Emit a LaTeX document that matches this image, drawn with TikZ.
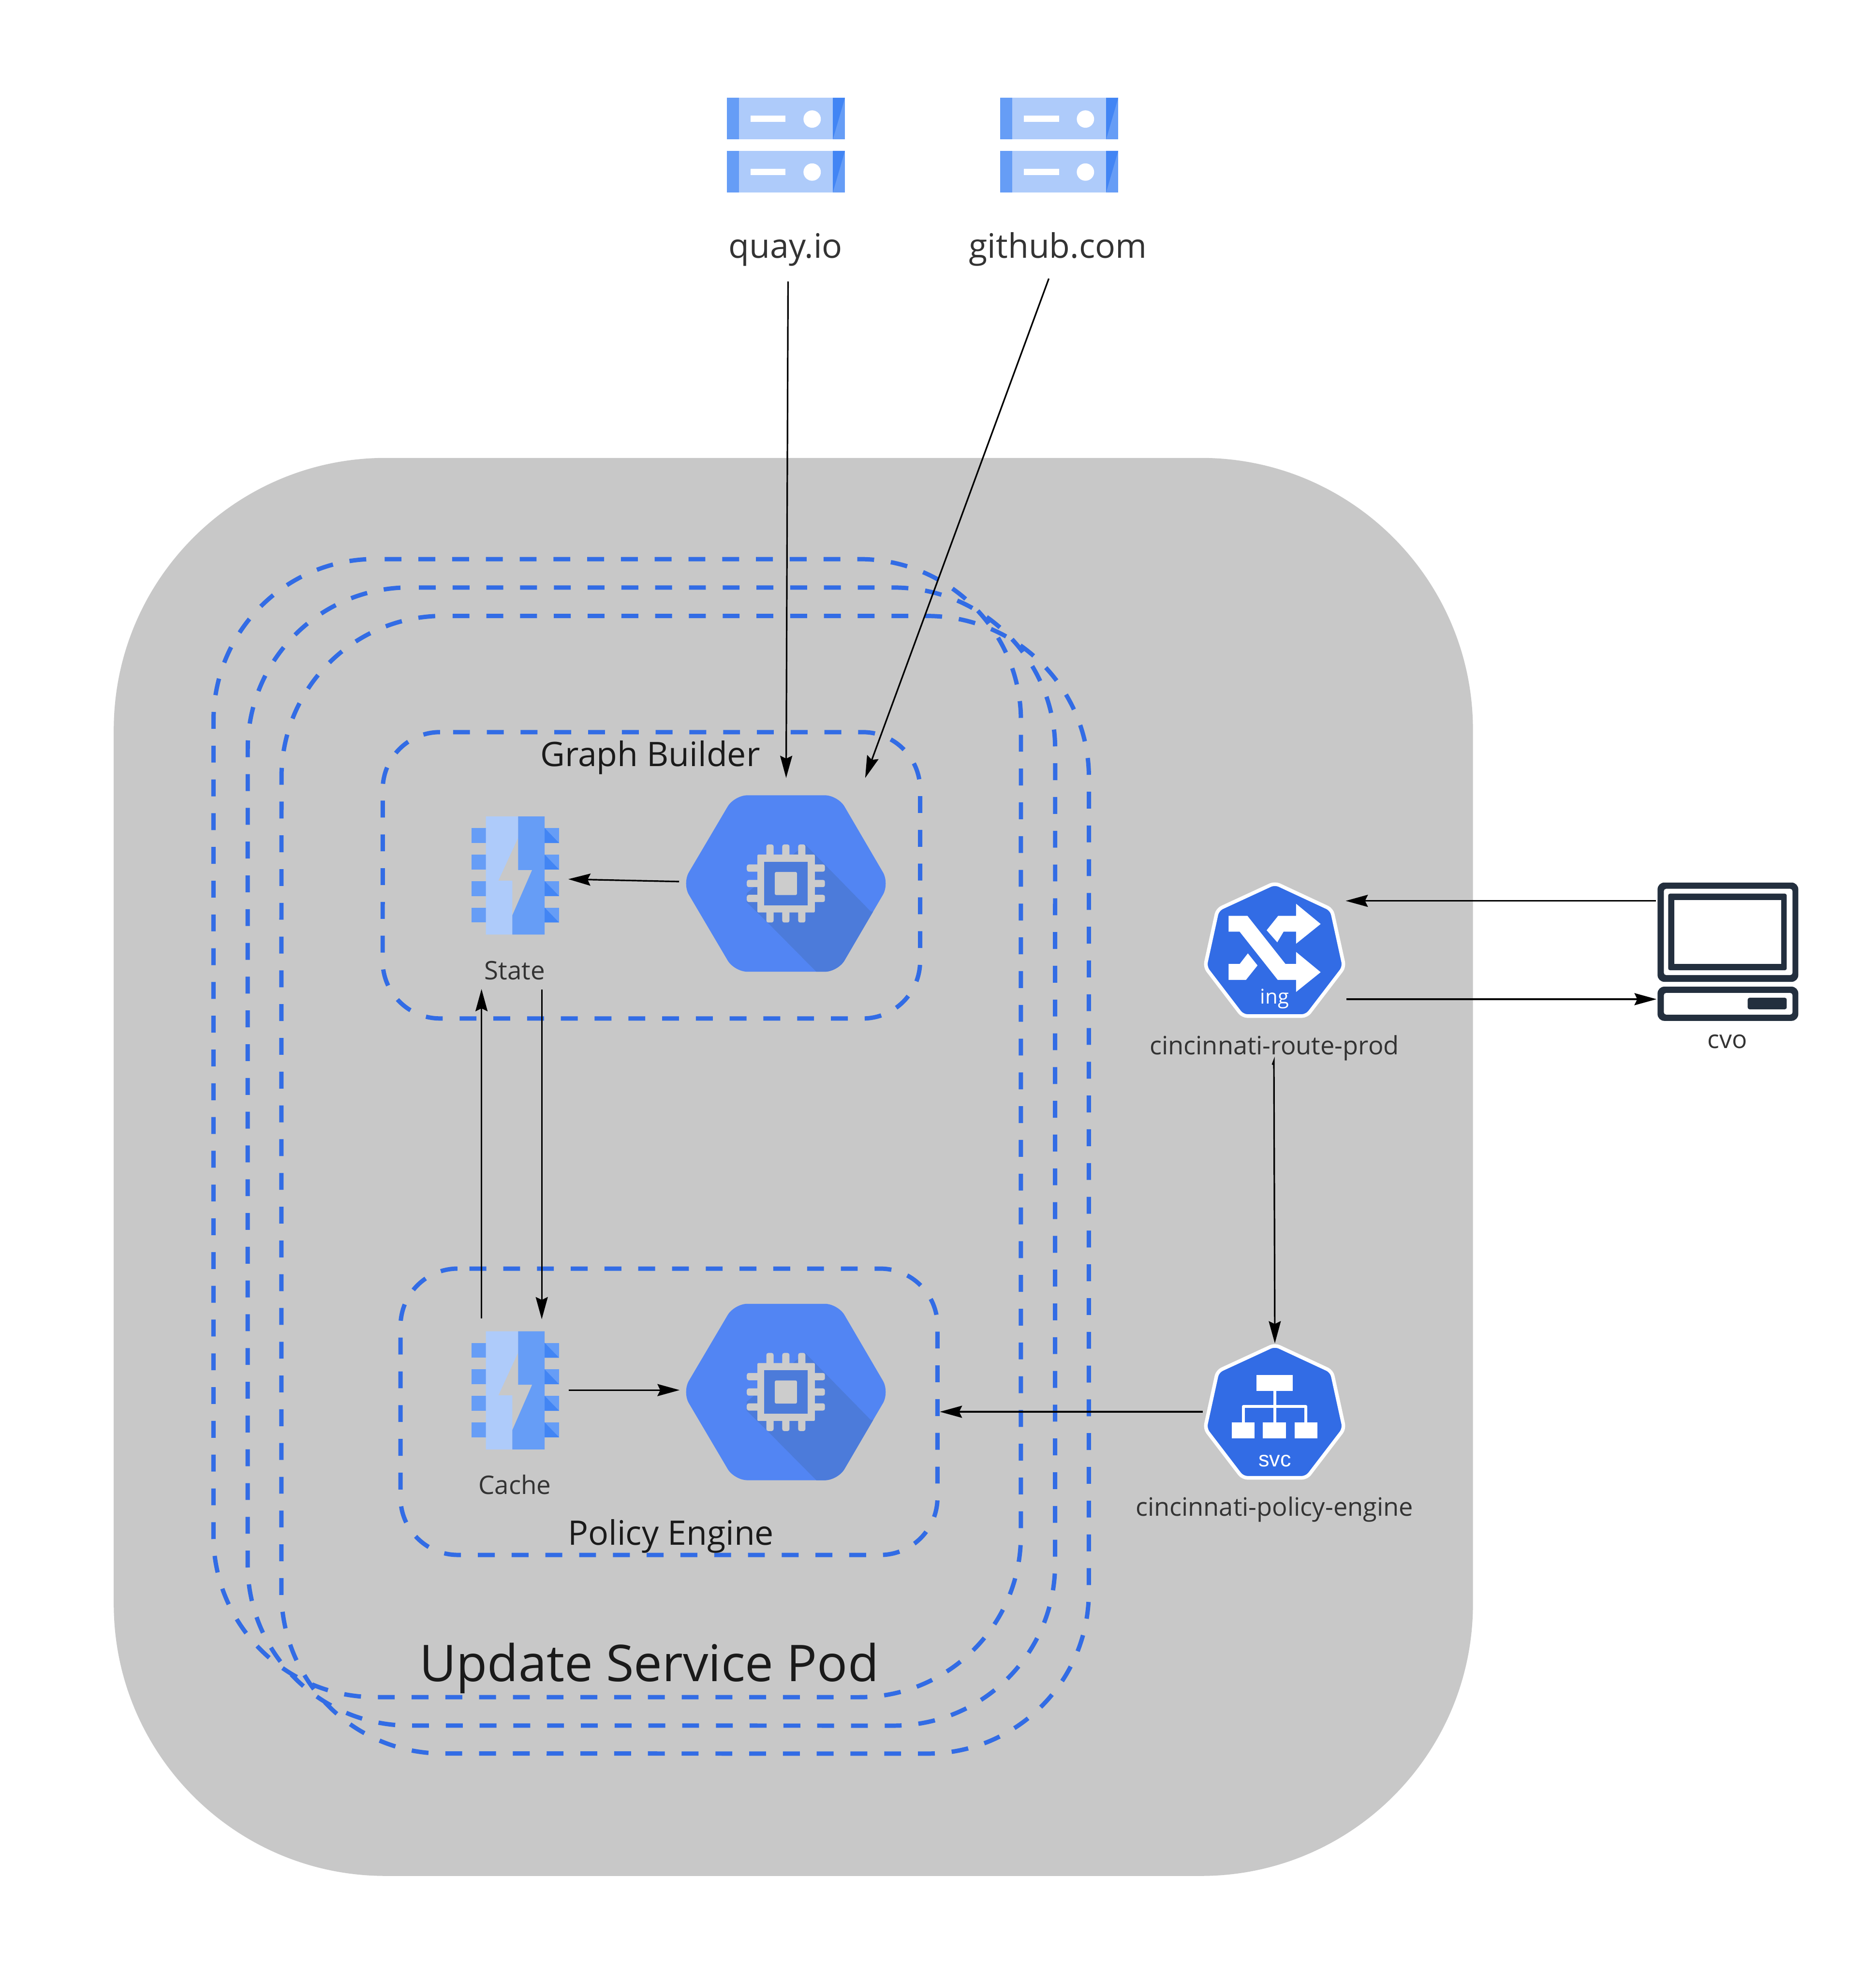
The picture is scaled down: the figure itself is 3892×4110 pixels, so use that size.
\documentclass[tikz,border=0pt]{standalone}
\usepackage{fontspec}
\setmainfont{Open Sans}
\newfontfamily\svcfont{Liberation Sans}
\usetikzlibrary{arrows.meta}
\definecolor{podgray}{HTML}{C8C8C8}
\definecolor{kblue}{HTML}{326CE5}
\definecolor{glight}{HTML}{AECBFA}
\definecolor{gmid}{HTML}{669DF6}
\definecolor{gdark}{HTML}{4285F4}
\definecolor{hexblue}{HTML}{5285F3}
\definecolor{hexshade}{HTML}{4C7BDA}
\definecolor{chipgray}{HTML}{CCCCCC}
\definecolor{termdark}{HTML}{232F3E}
\definecolor{txt}{HTML}{333333}
\definecolor{txtdark}{HTML}{1A1A1A}
\newcommand\fpx[1]{\fontsize{\dimexpr#1\dimexpr0.2845pt\relax\relax}{\dimexpr#1\dimexpr0.34pt\relax\relax}\selectfont}
\tikzset{
  x=0.01cm,y=-0.01cm,
  dashbox/.style={draw=kblue,line width=0.09cm,dash pattern=on 0.35cm off 0.35cm},
  conn/.style={draw=black,line width=0.032cm,-{Stealth[length=0.46cm,width=0.25cm,inset=0.06cm]}},
  lbl/.style={anchor=base,inner sep=0pt,outer sep=0pt,text=txt},
  lbldark/.style={anchor=base,inner sep=0pt,outer sep=0pt,text=txtdark},
}
% a rounded box traced clockwise from the end of its top-left corner:
% left, top, right, bottom (px), corner radius (cm), dash phase (cm)
\newcommand\dashrect[6]{%
  \pgfmathsetmacro\ra{#5*100}%
  \draw[dashbox,dash phase=#6cm]
    (#1+\ra,#2) -- (#3-\ra,#2)
    arc[start angle=90,end angle=0,radius=#5cm] -- (#3,#4-\ra)
    arc[start angle=0,end angle=-90,radius=#5cm] -- (#1+\ra,#4)
    arc[start angle=-90,end angle=-180,radius=#5cm] -- (#1,#2+\ra)
    arc[start angle=180,end angle=90,radius=#5cm] -- cycle;}
% a server unit
\newcommand\serverunit[2]{%
  \begin{scope}[shift={(#1,#2)}]
    \fill[glight] (0,0) rectangle (245,86);
    \fill[gmid] (0,0) rectangle (25,86);
    \fill[gmid] (220,0) rectangle (245,86);
    \fill[gdark] (220,0) -- (245,0) -- (220,86) -- cycle;
    \fill[white] (49,37) rectangle (122,50);
    \fill[white] (177,44) ellipse [x radius=0.18cm,y radius=0.18cm];
  \end{scope}}
% memory chip with a lightning cut-out
\newcommand\memchip[2]{%
  \begin{scope}[shift={(#1,#2)}]
    \foreach \py in {24,79,134,189}{
      \fill[gmid] (0,\py) rectangle (30,\py+31);
      \fill[gmid] (152,\py) rectangle (182,\py+31);
      \fill[gdark] (152,\py) -- (182,\py+31) -- (152,\py+31) -- cycle;
    }
    \fill[glight] (30,0) -- (97,0) -- (97,44) -- (56,133) -- (85,133) -- (85,245) -- (30,245) -- cycle;
    \fill[gmid] (97,0) -- (152,0) -- (152,245) -- (85,245) -- (85,205) -- (126,111) -- (97,111) -- cycle;
  \end{scope}}
% compute engine hexagon with a chip
\newcommand\heximg[2]{%
  \begin{scope}[shift={(#1,#2)}]
    \begin{scope}
      \clip[rounded corners=0.27cm] (-215,0) -- (-107,-183) -- (108,-183) -- (215,0) -- (108,183) -- (-107,183) -- cycle;
      \fill[hexblue] (-220,-190) rectangle (220,190);
      \fill[hexshade] (40,-81) -- (176,58) -- (260,58) -- (260,200) -- (80,200) -- (-39,80) -- (-81,39) -- (-81,20) -- cycle;
    \end{scope}
    \fill[chipgray,rounded corners=0.02cm] (-59,-60) rectangle (60,60);
    \foreach \px in {-33,0,33}{
      \fill[chipgray,rounded corners=0.04cm] (\px-7.5,-81) rectangle (\px+7.5,-50);
      \fill[chipgray,rounded corners=0.04cm] (\px-7.5,50) rectangle (\px+7.5,81);
    }
    \foreach \py in {-32,0,31}{
      \fill[chipgray,rounded corners=0.04cm] (-81,\py-7.5) rectangle (-50,\py+7.5);
      \fill[chipgray,rounded corners=0.04cm] (50,\py-7.5) rectangle (81,\py+7.5);
    }
    \fill[hexshade] (-45,-45) rectangle (45,45);
    \fill[chipgray,rounded corners=0.03cm] (-23,-24) rectangle (23,24);
  \end{scope}}
% kubernetes heptagon
\newcommand\heptagon[2]{%
  \draw[shift={(#1,#2)},fill=kblue,draw=white,line width=0.075cm,rounded corners=0.1cm,line join=round]
    (0,0) -- (118,55) -- (144,174) -- (66,276) -- (-67,276) -- (-145,174) -- (-119,55) -- cycle;}
\begin{document}
\begin{tikzpicture}
\useasboundingbox (0,0) rectangle (3892,4110);
\fill[white] (0,0) rectangle (3892,4110);

% pod background
\fill[podgray,rounded corners=5.64cm] (236,950) rectangle (3056,3892);

% pod replicas
\dashrect{443}{1160}{2118}{3521}{3.35}{0.5}
\dashrect{514}{1219}{2189}{3580}{3.35}{0.5}
\dashrect{584}{1278}{2259}{3638}{3.35}{0.5}

% containers
\dashrect{794}{1519}{1909}{2113}{1.19}{0.43}
\dashrect{831}{2632}{1945}{3226}{1.19}{0.46}

% servers
\serverunit{1508}{203}\serverunit{1508}{313}
\serverunit{2075}{203}\serverunit{2075}{313}

% chips and hexagons
\memchip{978}{1694}
\memchip{978}{2762}
\heximg{1630.5}{1833}
\heximg{1630.5}{2888}

% ingress heptagon
\heptagon{2645}{1832}
\fill[white] (2549,1900) -- (2588,1900) -- (2667,2000) -- (2689,2000) -- (2689,1975) -- (2740,2017) -- (2689,2058) -- (2689,2033) -- (2651,2033) -- (2572,1933) -- (2549,1933) -- cycle;
\fill[white] (2689,1875) -- (2740,1917) -- (2689,1958) -- (2689,1933) -- (2663,1933) -- (2650,1955) -- (2628,1930) -- (2652,1900) -- (2689,1900) -- cycle;
\fill[white] (2549,2000) -- (2572,2000) -- (2589,1978) -- (2609,2003) -- (2585,2033) -- (2549,2033) -- cycle;

% service heptagon
\heptagon{2645}{2790}
\fill[white] (2607,2853) rectangle (2682,2886);
\fill[white] (2556,2951) rectangle (2603,2984);
\fill[white] (2620,2951) rectangle (2668,2984);
\fill[white] (2686,2951) rectangle (2733,2984);
\draw[white,line width=0.06cm,line join=round] (2580,2951) -- (2580,2918) -- (2709,2918) -- (2709,2951);
\draw[white,line width=0.06cm] (2645,2886) -- (2645,2951);

% terminal
\fill[termdark,rounded corners=0.14cm] (3439,1831) rectangle (3731,2037);
\fill[white,rounded corners=0.05cm] (3452,1844) rectangle (3719,2023);
\fill[termdark,rounded corners=0.04cm] (3461,1854) rectangle (3707,2013);
\fill[white] (3474,1867) rectangle (3696,2000);
\fill[termdark,rounded corners=0.14cm] (3439,2047) rectangle (3731,2118);
\fill[white,rounded corners=0.05cm] (3452,2060) rectangle (3719,2105);
\fill[termdark,rounded corners=0.04cm] (3626,2070) rectangle (3707,2094);

% text
\node[lbl,font=\fpx{70}] (quaylabel) at (1630,535) {quay.io};
\node[lbl,font=\fpx{70}] (githublabel) at (2195,535) {github.com};
\node[lbldark,font=\fpx{70}] (gblabel) at (1349,1590) {Graph Builder};
\node[lbldark,font=\fpx{70}] (pelabel) at (1392,3205) {Policy Engine};
\node[lbldark,font=\fpx{105}] (podlabel) at (1347,3488) {Update Service Pod};
\node[lbl,font=\fpx{53}] (statelabel) at (1068,2032) {State};
\node[lbl,font=\fpx{53}] (cachelabel) at (1068,3100) {Cache};
\node[lbl,font=\fpx{52.5}] (routelabel) at (2644,2188) {cincinnati-route-prod};
\node[lbl,font=\fpx{52.5}] (policylabel) at (2644,3145) {cincinnati-policy-engine};
\node[lbl,font=\fpx{52}] (cvolabel) at (3584,2175) {cvo};
\node[lbl,text=white,font=\fpx{42}] (inglabel) at (2644.5,2083) {ing};
\node[lbl,text=white,font=\svcfont\fpx{45}] (svclabel) at (2645,3043) {svc};

% connector ends
\coordinate (quayout) at (1635,584);
\coordinate (quayin) at (1631,1614);
\coordinate (ghout) at (2176,578);
\coordinate (ghin) at (1795,1614);
\coordinate (gbout) at (1409,1829);
\coordinate (statein) at (1179,1824);
\coordinate (cacheup) at (999,2735);
\coordinate (stateup) at (999,2052);
\coordinate (statedown) at (1124,2053);
\coordinate (cachedown) at (1124,2737);
\coordinate (cacheout) at (1180,2884);
\coordinate (pein) at (1410,2884);
\coordinate (svcout) at (2495,2929);
\coordinate (peboxin) at (1950,2929);
\coordinate (termout) at (3436,1869);
\coordinate (ingin) at (2792,1869);
\coordinate (ingout) at (2793,2073);
\coordinate (termin) at (3437,2073);
\coordinate (routehook) at (2640,2209);
\coordinate (routeout) at (2643,2201);
\coordinate (svcin) at (2645,2787);

% connectors
\draw[conn] (quayout) -- (quayin);
\draw[conn] (ghout) -- (ghin);
\draw[conn] (gbout) -- (statein);
\draw[conn] (cacheup) -- (stateup);
\draw[conn] (statedown) -- (cachedown);
\draw[conn] (cacheout) -- (pein);
\draw[conn] (svcout) -- (peboxin);
\draw[conn] (termout) -- (ingin);
\draw[conn] (ingout) -- (termin);
\draw[conn] (routehook) -- (routeout) -- (svcin);
\end{tikzpicture}
\end{document}
